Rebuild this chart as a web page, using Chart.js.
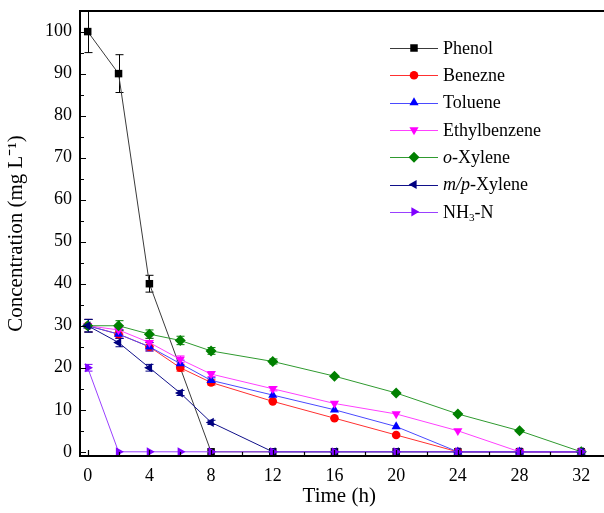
<!DOCTYPE html>
<html>
<head>
<meta charset="utf-8">
<script src="https://cdn.jsdelivr.net/npm/chart.js@4/dist/chart.umd.min.js"></script>
<style>
  html, body { margin: 0; padding: 0; background: #fff; }
  #wrap { width: 604px; height: 513px; }
</style>
</head>
<body>
<div id="wrap"><canvas id="chart" width="604" height="513"></canvas></div>
<script>
// time points (h)
const timeH = [0, 2, 4, 6, 8, 12, 16, 20, 24, 28, 32];

const seriesNames = ['Phenol', 'Benezne', 'Toluene', 'Ethylbenzene', 'o-Xylene', 'm/p-Xylene', 'NH3-N'];

const phenol       = [100, 90, 40, null, 0, 0, 0, 0, 0, 0, 0];
const benzene      = [30, 28, 25, 20, 16.5, 12, 8, 4, 0, 0, 0];
const toluene      = [30, 28, 25, 21, 17, 13.5, 10, 6, 0, 0, 0];
const ethylbenzene = [30, 29, 26, 22, 18.5, 15, 11.5, 9, 5, 0, 0];
const oXylene      = [30, 30, 28, 26.5, 24, 21.5, 18, 14, 9, 5, 0];
const mpXylene     = [30, 26, 20, 14, 7, 0, 0, 0, 0, 0, 0];
const nh3n         = [20, 0, 0, 0, 0, 0, 0, 0, 0, 0, 0];

// error bar half-heights
const phenolErr       = [5, 4.5, 2, 0, 0, 0, 0, 0, 0, 0, 0];
const benzeneErr      = [1.5, 1, 1, 0.8, 0.6, 0, 0, 0, 0, 0, 0];
const tolueneErr      = [1.5, 1, 1, 0.8, 0.6, 0, 0, 0, 0, 0, 0];
const ethylbenzeneErr = [1.5, 1, 1, 0.8, 0.6, 0.5, 0, 0, 0, 0, 0];
const oXyleneErr      = [1.5, 1.2, 1, 1, 0.8, 0.6, 0, 0, 0, 0, 0];
const mpXyleneErr     = [1.5, 1, 0.8, 0.6, 0.5, 0, 0, 0, 0, 0, 0];
const nh3nErr         = [0.8, 0, 0, 0, 0, 0, 0, 0, 0, 0, 0];

const xTicks = [0, 4, 8, 12, 16, 20, 24, 28, 32];
const yTicks = [0, 10, 20, 30, 40, 50, 60, 70, 80, 90, 100];

const allValues = [phenol, benzene, toluene, ethylbenzene, oXylene, mpXylene, nh3n];
const allErrors = [phenolErr, benzeneErr, tolueneErr, ethylbenzeneErr, oXyleneErr, mpXyleneErr, nh3nErr];
const lineColors = ['#3a3a3a', '#ff3030', '#4a4aff', '#ff40ff', '#2f9a2f', '#10108a', '#9a40ff'];
const markColors = ['#000000', '#ff0000', '#0000ff', '#ff00ff', '#008000', '#000080', '#7f00ff'];
const markStyles = ['rect', 'circle', 'triangle', 'triangle', 'rectRot', 'triangle', 'triangle'];
const markRotations = [0, 0, 0, 180, 0, -90, 90];
const markRadius = [5.3, 4.3, 5.3, 5.3, 5.5, 5.3, 5.3];

const FONT = "'Liberation Serif', 'Times New Roman', serif";

const datasets = allValues.map((vals, i) => ({
  label: seriesNames[i],
  data: vals.map((v, j) => ({ x: timeH[j], y: v })).filter(p => p.y !== null),
  borderColor: lineColors[i],
  backgroundColor: markColors[i],
  pointBorderColor: markColors[i],
  pointBackgroundColor: markColors[i],
  pointStyle: markStyles[i],
  rotation: markRotations[i],
  pointRadius: markRadius[i],
  pointBorderWidth: 0,
  borderWidth: 1,
  tension: 0,
  order: 6 - i,
  clip: false
}));

function drawRich(ctx, label, x, y, size) {
  // italics for o- / m/p- prefix, subscript for NH3
  let parts = [];
  let m = label.match(/^(o|m\/p)(-.*)$/);
  if (m) parts = [{ t: m[1], it: true }, { t: m[2] }];
  else if ((m = label.match(/^NH(\d)(.*)$/))) parts = [{ t: 'NH' }, { t: m[1], sub: true }, { t: m[2] }];
  else parts = [{ t: label }];
  let cx = x;
  parts.forEach(p => {
    const fs = p.sub ? size * 0.62 : size;
    ctx.font = (p.it ? 'italic ' : '') + fs + 'px ' + FONT;
    ctx.fillText(p.t, cx, p.sub ? y + size * 0.32 : y);
    cx += ctx.measureText(p.t).width;
  });
}

const decor = {
  id: 'decor',
  beforeDatasetsDraw(chart) {
    const { ctx, scales: { x, y } } = chart;
    ctx.save();
    chart.data.datasets.forEach((ds, i) => {
      const err = allErrors[i];
      ctx.strokeStyle = markColors[i];
      ctx.lineWidth = 1;
      allValues[i].forEach((v, j) => {
        if (v === null || !err[j]) return;
        const px = Math.round(x.getPixelForValue(timeH[j])) + 0.5;
        const t = y.getPixelForValue(v + err[j]);
        const b = y.getPixelForValue(v - err[j]);
        ctx.beginPath();
        ctx.moveTo(px, t); ctx.lineTo(px, b);
        ctx.moveTo(px - 4, t); ctx.lineTo(px + 4, t);
        ctx.moveTo(px - 4, b); ctx.lineTo(px + 4, b);
        ctx.stroke();
      });
    });
    ctx.restore();
  },
  afterDraw(chart) {
    const { ctx, chartArea: a, scales: { x, y } } = chart;
    const right = chart.width;
    ctx.save();
    ctx.strokeStyle = '#000';
    ctx.lineWidth = 2;
    // frame: top, left, bottom (open on the right)
    ctx.beginPath();
    ctx.moveTo(right, a.top); ctx.lineTo(a.left, a.top);
    ctx.lineTo(a.left, a.bottom); ctx.lineTo(right, a.bottom);
    ctx.stroke();
    // inward ticks
    ctx.lineWidth = 1.2;
    ctx.beginPath();
    for (let v = 0; v <= 100; v += 5) {
      const py = Math.round(y.getPixelForValue(v)) + 0.5;
      const len = v % 10 === 0 ? 6 : 4;
      ctx.moveTo(a.left, py); ctx.lineTo(a.left + len, py);
    }
    for (let v = 0; v <= 32; v += 2) {
      const px = Math.round(x.getPixelForValue(v)) + 0.5;
      const len = v % 4 === 0 ? 6 : 4;
      ctx.moveTo(px, a.bottom); ctx.lineTo(px, a.bottom - len);
    }
    ctx.stroke();
    // legend
    const lx0 = 390, lx1 = 438, ly0 = 48, dy = 27.3;
    ctx.textBaseline = 'middle';
    ctx.textAlign = 'left';
    chart.data.datasets.forEach((ds, i) => {
      const ly = ly0 + i * dy;
      ctx.strokeStyle = lineColors[i];
      ctx.lineWidth = 1;
      ctx.beginPath();
      ctx.moveTo(lx0, Math.round(ly) + 0.5); ctx.lineTo(lx1, Math.round(ly) + 0.5);
      ctx.stroke();
      ctx.fillStyle = markColors[i];
      Chart.helpers.drawPoint(ctx, {
        pointStyle: markStyles[i], rotation: markRotations[i],
        radius: markRadius[i], borderWidth: 0
      }, (lx0 + lx1) / 2, ly);
      ctx.fillStyle = '#000';
      drawRich(ctx, seriesNames[i], 443, ly + 1, 18);
    });
    ctx.restore();
  }
};

new Chart(document.getElementById('chart'), {
  type: 'line',
  data: { datasets },
  plugins: [decor],
  options: {
    responsive: false,
    animation: false,
    layout: { padding: { top: 11, right: 0, left: 0, bottom: 0 } },
    plugins: { legend: { display: false }, tooltip: { enabled: false } },
    elements: { point: { hoverRadius: 5 } },
    scales: {
      x: {
        type: 'linear',
        min: -0.5,
        max: 33.12,
        afterBuildTicks: s => { s.ticks = xTicks.map(v => ({ value: v })); },
        afterFit: s => { s.height = 57; s.paddingLeft = 0; s.paddingRight = 0; },
        grid: { display: false, drawTicks: false, tickLength: 0 },
        border: { display: false },
        ticks: { color: '#000', font: { family: FONT, size: 18 }, padding: 9, maxRotation: 0 },
        title: { display: true, text: 'Time (h)', color: '#000', font: { family: FONT, size: 21 }, padding: { top: 0, bottom: 4 } }
      },
      y: {
        min: -1,
        max: 104.9,
        afterBuildTicks: s => { s.ticks = yTicks.map(v => ({ value: v })); },
        afterFit: s => { s.width = 80; s.paddingTop = 0; s.paddingBottom = 0; },
        grid: { display: false, drawTicks: false, tickLength: 0 },
        border: { display: false },
        ticks: { color: '#000', font: { family: FONT, size: 18 }, padding: 8 },
        title: { display: true, text: 'Concentration (mg L\u207B\u00B9)', color: '#000', font: { family: FONT, size: 21 }, padding: { top: 4, bottom: 0 } }
      }
    }
  }
});
</script>
</body>
</html>
